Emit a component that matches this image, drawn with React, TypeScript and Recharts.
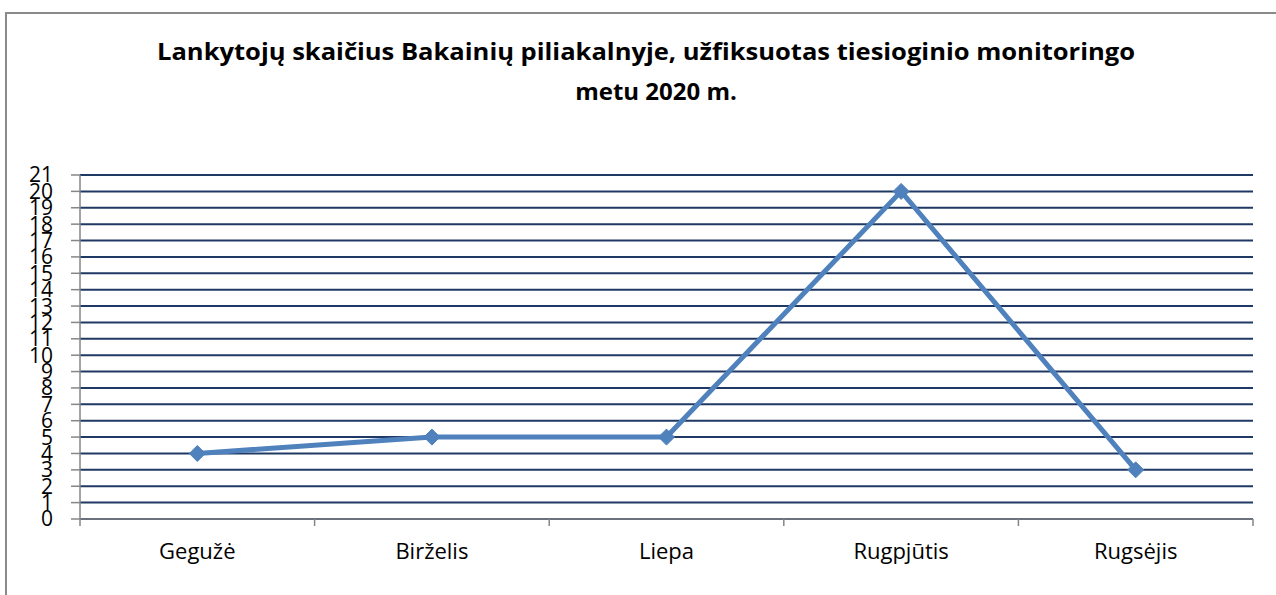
import React from "react";
import { LineChart, Line, XAxis, YAxis, CartesianGrid } from "recharts";

const months = ["Gegužė", "Birželis", "Liepa", "Rugpjūtis", "Rugsėjis"];
const visitors = [4, 5, 5, 20, 3];
const yTicks = [0, 1, 2, 3, 4, 5, 6, 7, 8, 9, 10, 11, 12, 13, 14, 15, 16, 17, 18, 19, 20, 21];
const titleLine1 = "Lankytojų skaičius Bakainių piliakalnyje, užfiksuotas tiesioginio monitoringo";
const titleLine2 = "metu 2020 m.";

const data = months.map((m, i) => ({ month: m, value: visitors[i] }));

const W = 1276;
const H = 595;
const PLOT_LEFT = 80;
const PLOT_RIGHT = 1253;
const PLOT_TOP = 175;
const PLOT_BOTTOM = 519;
const BAND = (PLOT_RIGHT - PLOT_LEFT) / months.length;
const FONT = "'Open Sans', sans-serif";
const AXIS_GRAY = "#868686";

const XTick = (props: any) => {
  const { x, payload, index } = props;
  const left = x - BAND / 2;
  const right = x + BAND / 2;
  return (
    <g>
      <line x1={left} y1={PLOT_BOTTOM} x2={left} y2={PLOT_BOTTOM + 7} stroke={AXIS_GRAY} strokeWidth={1.5} />
      {index === months.length - 1 && (
        <line x1={right} y1={PLOT_BOTTOM} x2={right} y2={PLOT_BOTTOM + 7} stroke={AXIS_GRAY} strokeWidth={1.5} />
      )}
      <text x={x} y={559} textAnchor="middle" fontFamily={FONT} fontSize={22} fill="#000">
        {payload.value}
      </text>
    </g>
  );
};

const Diamond = (props: any) => {
  const { cx, cy } = props;
  if (cx == null || cy == null) return null;
  const r = 8;
  return (
    <polygon
      points={`${cx},${cy - r} ${cx + r},${cy} ${cx},${cy + r} ${cx - r},${cy}`}
      fill="#4F81BD"
      stroke="#4F81BD"
      strokeWidth={1}
    />
  );
};

export default function App() {
  return (
    <div style={{ position: "absolute", left: 0, top: 0, width: W, height: H, overflow: "hidden", background: "#fff" }}>
      <div
        style={{
          position: "absolute",
          left: 5,
          top: 12,
          width: 1400,
          height: 800,
          border: "2px solid #8a8a8a",
          boxSizing: "border-box",
        }}
      />
      <svg style={{ position: "absolute", left: 0, top: 0 }} width={W} height={130}>
        <text
          x={646}
          y={60}
          textAnchor="middle"
          fontFamily={FONT}
          fontWeight="bold"
          fontSize={24}
          fill="#000"
          textLength={978}
          lengthAdjust="spacingAndGlyphs"
        >
          {titleLine1}
        </text>
        <text x={656} y={100} textAnchor="middle" fontFamily={FONT} fontWeight="bold" fontSize={24} fill="#000">
          {titleLine2}
        </text>
      </svg>
      <div style={{ position: "absolute", left: 0, top: 0 }}>
        <LineChart
          width={W}
          height={H}
          data={data}
          margin={{ top: PLOT_TOP, right: W - PLOT_RIGHT, bottom: H - PLOT_BOTTOM - 50, left: 0 }}
        >
          <CartesianGrid horizontal={true} vertical={false} stroke="#1F3864" strokeWidth={2} />
          <XAxis
            dataKey="month"
            height={50}
            padding={{ left: BAND / 2, right: BAND / 2 }}
            axisLine={{ stroke: AXIS_GRAY, strokeWidth: 1.5 }}
            tickLine={false}
            tick={<XTick />}
            interval={0}
          />
          <YAxis
            width={PLOT_LEFT}
            domain={[0, 21]}
            ticks={yTicks}
            interval={0}
            axisLine={{ stroke: AXIS_GRAY, strokeWidth: 1.5 }}
            tickLine={{ stroke: AXIS_GRAY, strokeWidth: 1.5 }}
            tickSize={9}
            tickMargin={18}
            tick={{ fill: "#000", fontSize: 21, fontFamily: FONT }}
          />
          <Line
            type="linear"
            dataKey="value"
            stroke="#4F81BD"
            strokeWidth={5}
            dot={<Diamond />}
            activeDot={false}
            isAnimationActive={false}
          />
        </LineChart>
      </div>
    </div>
  );
}
